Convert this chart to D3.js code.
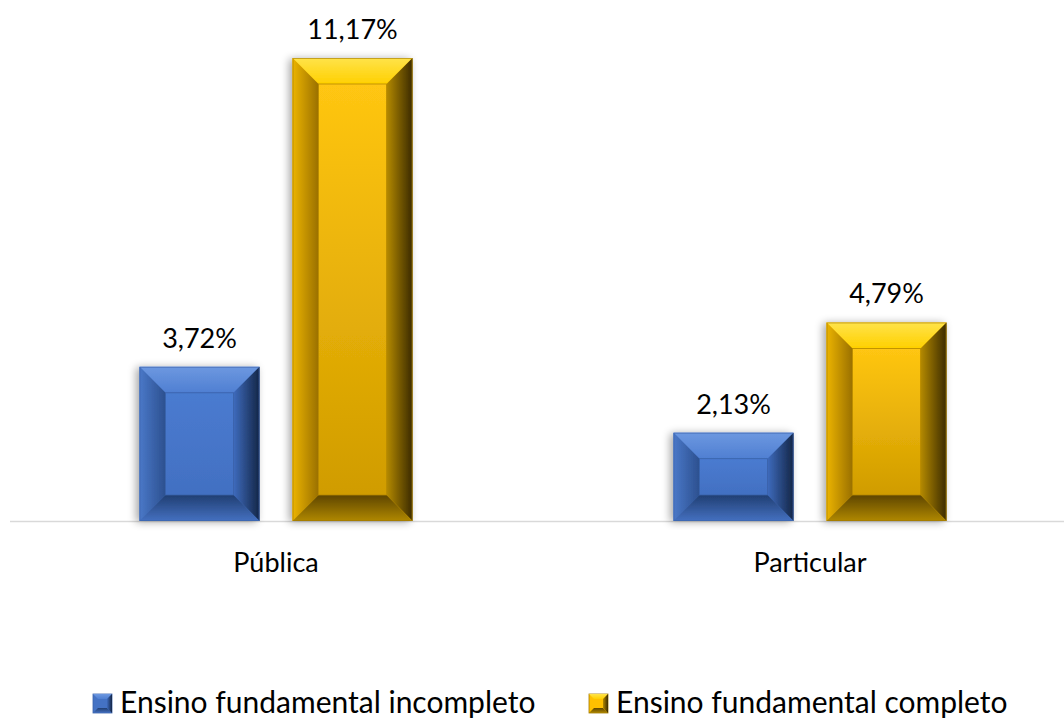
<!DOCTYPE html>
<html><head><meta charset="utf-8">
<script src="https://cdn.jsdelivr.net/npm/d3@7"></script>
<style>body{margin:0;background:#fff}svg{display:block}text{font-family:Lato,"Open Sans",sans-serif;fill:#000}</style>
</head><body>
<svg id="c" width="1064" height="720"></svg>
<script>
const categories = ["Pública", "Particular"];
const seriesNames = ["Ensino fundamental incompleto", "Ensino fundamental completo"];
const incompleto = [3.72, 2.13];
const completo = [11.17, 4.79];
const valueLabels = [["3,72%", "11,17%"], ["2,13%", "4,79%"]];

const svg = d3.select("#c");
const W = 1064, H = 720;
const plot = {left: 9, right: 1077, top: 58, bottom: 521};
const x0 = d3.scaleBand().domain(categories).range([plot.left, plot.right]).paddingInner(0).paddingOuter(0);
const x1 = d3.scaleBand().domain([0, 1]).range([130.5, 130.5 + 273]).paddingInner(33 / 153).paddingOuter(0);
const y = d3.scaleLinear().domain([0, 11.17]).range([plot.bottom, plot.top]);

const palettes = [
  { face: ["#4a7bd0", "#4270c2"], top: ["#6d98e0", "#4f7fd2"], left: ["#4a78c8", "#2c508f"], right: ["#3e6bbd", "#142646"], bottom: ["#4470c0", "#213f73"], stroke: "#3a62aa", legend: "#4472C4" },
  { face: ["#ffc612", "#d09c00"], top: ["#ffe34a", "#ffd000"], left: ["#ecb400", "#9a7000"], right: ["#b58a00", "#3a2a00"], bottom: ["#b08800", "#5e4500"], stroke: "#a07800", legend: "#FFC000" }
];

const defs = svg.append("defs");
const filt = defs.append("filter").attr("id", "sh").attr("x", "-20%").attr("y", "-10%").attr("width", "140%").attr("height", "120%");
filt.append("feGaussianBlur").attr("in", "SourceAlpha").attr("stdDeviation", 4).attr("result", "b");
filt.append("feOffset").attr("in", "b").attr("dx", -3).attr("dy", 1).attr("result", "o");
filt.append("feComponentTransfer").attr("in", "o").attr("result", "o2").append("feFuncA").attr("type", "linear").attr("slope", 0.35);
const fm = filt.append("feMerge"); fm.append("feMergeNode").attr("in", "o2"); fm.append("feMergeNode").attr("in", "SourceGraphic");

function grad(id, c, dir) {
  const g = defs.append("linearGradient").attr("id", id);
  if (dir === "v") g.attr("x1", 0).attr("y1", 0).attr("x2", 0).attr("y2", 1);
  else if (dir === "vr") g.attr("x1", 0).attr("y1", 1).attr("x2", 0).attr("y2", 0);
  else g.attr("x1", 0).attr("y1", 0).attr("x2", 1).attr("y2", 0);
  g.append("stop").attr("offset", 0).attr("stop-color", c[0]);
  g.append("stop").attr("offset", 1).attr("stop-color", c[1]);
}
palettes.forEach((p, i) => {
  grad("face" + i, p.face, "v");
  grad("top" + i, p.top, "v");
  grad("left" + i, p.left, "h");
  grad("right" + i, p.right, "h");
  grad("bottom" + i, p.bottom, "vr");
});

// axis line
svg.append("line").attr("x1", 10).attr("x2", W).attr("y1", plot.bottom + 0.5).attr("y2", plot.bottom + 0.5)
  .attr("stroke", "#d9d9d9").attr("stroke-width", 1.5);

const series = [incompleto, completo];
const bev = 26;
const bars = [];
categories.forEach((cat, ci) => {
  series.forEach((vals, si) => {
    bars.push({cat, ci, si, v: vals[ci], label: valueLabels[ci][si]});
  });
});

const g = svg.append("g");
bars.forEach(d => {
  const xL = x0(d.cat) + x1(d.si), xR = xL + x1.bandwidth();
  const yT = y(d.v), yB = y(0);
  const b = Math.min(bev, (yB - yT) / 3.3);
  const iL = xL + b, iR = xR - b, iT = yT + b, iB = yB - b;
  const bg = g.append("g").attr("filter", "url(#sh)");
  const pt = a => a.map(p => p.join(",")).join(" ");
  bg.append("rect").attr("x", xL).attr("y", yT).attr("width", xR - xL).attr("height", yB - yT).attr("fill", palettes[d.si].legend);
  bg.append("polygon").attr("points", pt([[xL, yT], [xR, yT], [iR, iT], [iL, iT]])).attr("fill", `url(#top${d.si})`);
  bg.append("polygon").attr("points", pt([[xL, yT], [iL, iT], [iL, iB], [xL, yB]])).attr("fill", `url(#left${d.si})`);
  bg.append("polygon").attr("points", pt([[xR, yT], [xR, yB], [iR, iB], [iR, iT]])).attr("fill", `url(#right${d.si})`);
  bg.append("polygon").attr("points", pt([[xL, yB], [iL, iB], [iR, iB], [xR, yB]])).attr("fill", `url(#bottom${d.si})`);
  bg.append("rect").attr("x", iL).attr("y", iT).attr("width", iR - iL).attr("height", iB - iT).attr("fill", `url(#face${d.si})`)
    .attr("stroke", d3.color(palettes[d.si].face[1]).darker(0.4)).attr("stroke-width", 0.8);
  bg.append("rect").attr("x", xL + 0.5).attr("y", yT + 0.5).attr("width", xR - xL - 1).attr("height", yB - yT - 1)
    .attr("fill", "none").attr("stroke", palettes[d.si].stroke).attr("stroke-width", 1).attr("stroke-opacity", 0.6);
  g.append("text").attr("x", (xL + xR) / 2).attr("y", yT - 19).attr("text-anchor", "middle")
    .attr("font-size", 27).text(d.label);
});

// category labels
svg.append("g").selectAll("text").data(categories).join("text")
  .attr("x", d => x0(d) + x1(0) + (x1(1) + x1.bandwidth() - x1(0)) / 2)
  .attr("y", 572).attr("text-anchor", "middle").attr("font-size", 27).text(d => d);

// legend
const legendX = [93, 589];
const lg = svg.append("g");
seriesNames.forEach((n, i) => {
  const p = palettes[i];
  const gg = lg.append("g").attr("transform", `translate(${legendX[i]},694)`);
  gg.append("rect").attr("width", 19).attr("height", 19).attr("fill", p.legend).attr("stroke", p.stroke).attr("stroke-width", 0.8);
  gg.append("polygon").attr("points", "0,0 19,0 14,5 5,5").attr("fill", `url(#top${i})`);
  gg.append("polygon").attr("points", "0,19 5,14 14,14 19,19").attr("fill", `url(#bottom${i})`);
  gg.append("polygon").attr("points", "19,0 19,19 14,14 14,5").attr("fill", `url(#right${i})`);
  gg.append("text").attr("x", 27).attr("y", 18.5).attr("font-size", 30).text(n);
});
</script>
</body></html>
